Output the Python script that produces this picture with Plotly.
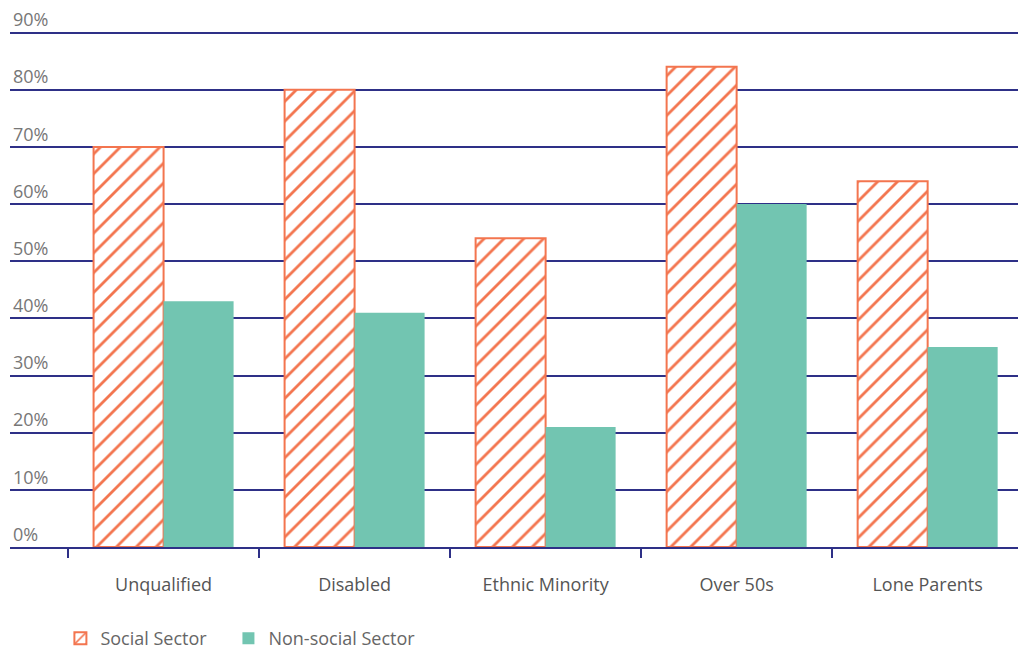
import plotly.graph_objects as go

# Share of each group (percent) in the social sector vs elsewhere
categories = ["Unqualified", "Disabled", "Ethnic Minority", "Over 50s", "Lone Parents"]
social_sector = [70, 80, 54, 84, 64]
non_social_sector = [43, 41, 21, 60, 35]
y_ticks = [0, 10, 20, 30, 40, 50, 60, 70, 80, 90]
y_tick_labels = [f"{v}%" for v in y_ticks]

NAVY = "#2E3087"
ORANGE = "#F3754F"
TEAL = "#72C5B1"
FONT = "Open Sans"

fig = go.Figure()

fig.add_trace(go.Bar(
    name="Social Sector",
    x=categories,
    y=social_sector,
    legend="legend",
    marker=dict(
        color="white",
        line=dict(color=ORANGE, width=2),
        pattern=dict(shape="/", fgcolor=ORANGE, bgcolor="white", fgopacity=1,
                     size=14, solidity=0.2, fillmode="overlay"),
    ),
))

fig.add_trace(go.Bar(
    name="Non-social Sector",
    x=categories,
    y=non_social_sector,
    legend="legend2",
    marker=dict(color=TEAL, line=dict(width=0)),
))

legend_style = dict(
    orientation="h",
    xanchor="left",
    y=-0.1335,
    yanchor="top",
    font=dict(family=FONT, size=18, color="#666666"),
    itemwidth=30,
    bgcolor="rgba(0,0,0,0)",
)

fig.update_layout(
    width=1018,
    height=651,
    margin=dict(l=10, r=0, t=0, b=104, autoexpand=False),
    paper_bgcolor="white",
    plot_bgcolor="white",
    barmode="group",
    bargap=0.267,
    bargroupgap=0,
    showlegend=True,
    legend=dict(x=0.05, **legend_style),
    legend2=dict(x=0.2167, **legend_style),
    font=dict(family=FONT, color="#555555"),
)

fig.update_xaxes(
    type="category",
    range=[-0.804, 4.473],
    showgrid=False,
    showline=True,
    linecolor=NAVY,
    linewidth=2,
    ticks="outside",
    tickson="boundaries",
    ticklen=9,
    tickwidth=2,
    tickcolor=NAVY,
    tickfont=dict(family=FONT, size=18, color="#555555"),
    ticklabelstandoff=20,
)

fig.update_yaxes(
    range=[0, 95.7],
    tickvals=y_ticks,
    ticktext=y_tick_labels,
    ticklabelposition="inside top",
    showgrid=True,
    gridcolor=NAVY,
    gridwidth=2,
    zeroline=False,
    showline=False,
    ticks="",
    tickfont=dict(family=FONT, size=18, color="#777777"),
)

fig.write_html("out.html")
